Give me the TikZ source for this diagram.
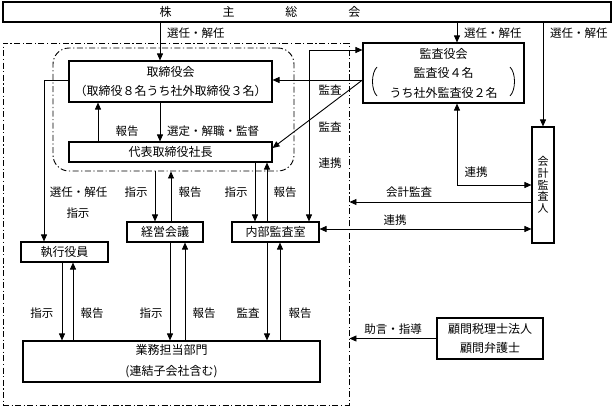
\documentclass[tikz,border=0pt]{standalone}
\usepackage{fontspec}
\setmainfont{Noto Sans CJK JP}
\usetikzlibrary{arrows.meta}
\tikzset{
  box/.style={draw, line width=1.1pt, inner sep=0pt, font=\fontsize{12}{19}\selectfont, align=center},
  lbl/.style={font=\fontsize{11.5}{13}\selectfont, inner sep=0pt},
  arr/.style={line width=0.9pt, -{Triangle[length=7pt,width=6pt]}},
  arrs/.style={line width=0.9pt, {Triangle[length=7pt,width=6pt]}-{Triangle[length=7pt,width=6pt]}},
  paren/.style={line width=0.8pt},
  dd/.style={draw, line width=0.9pt, dash pattern=on 6pt off 2.5pt on 1.2pt off 2.5pt, inner sep=0pt},
}
\begin{document}
\begin{tikzpicture}[x=1pt,y=-1pt]
\useasboundingbox (0,0) rectangle (614,407);
% group frames
\node[dd, minimum width=346pt, minimum height=362pt] (outer) at (176,224) {};
\node[dd, rounded corners=16pt, minimum width=241pt, minimum height=123pt] (grp) at (173.5,109.5) {};
% boxes
\node[box, minimum width=608pt, minimum height=20pt] (sh) at (307,12) {株\hspace{51pt}主\hspace{51pt}総\hspace{51pt}会\hspace{94pt}};
\node[box, minimum width=203pt, minimum height=41pt] (tb) at (170.5,81.5) {取締役会\\（取締役８名うち社外取締役３名）};
\node[box, minimum width=203pt, minimum height=20pt] (ceo) at (170.5,152) {代表取締役社長};
\node[box, minimum width=161pt, minimum height=60pt, font=\fontsize{12}{19.5}\selectfont] (kan) at (443.5,73) {監査役会\\監査役４名\\うち社外監査役２名};
\draw[paren] (377,67) .. controls (371,73) and (371,90) .. (377,96);
\draw[paren] (510,67) .. controls (516,73) and (516,90) .. (510,96);
\node[box, minimum width=22pt, minimum height=116pt, font=\fontsize{11}{11.7}\selectfont] (kai) at (543,185) {会\\計\\監\\査\\人};
\node[box, minimum width=87pt, minimum height=20pt] (nai) at (275.5,232) {内部監査室};
\node[box, minimum width=76pt, minimum height=20pt] (kei) at (165,232) {経営会議};
\node[box, minimum width=87pt, minimum height=20pt] (shi) at (64.5,252) {執行役員};
\node[box, minimum width=297pt, minimum height=41pt, font=\fontsize{12}{21}\selectfont] (gyo) at (171.5,361.5) {業務担当部門\\(連結子会社含む)};
\node[box, minimum width=106pt, minimum height=41pt] (kom) at (490,338.5) {顧問税理士法人\\顧問弁護士};
% connectors
\draw[arr] (sh.south -| 160,0) -- (tb.north -| 160,0);
\draw[arr] (sh.south -| 457,0) -- (kan.north -| 457,0);
\draw[arr] (sh.south -| kai.north) -- (kai.north);
\draw[arr] (ceo.north -| 98,0) -- (tb.south -| 98,0);
\draw[arr] (tb.south -| 160,0) -- (ceo.north -| 160,0);
\draw[arr] (kan.west |- 0,80) -- (tb.east |- 0,80);
\draw[arr] (kan.west |- 0,80) -- (ceo.east |- 0,148);
\draw[arrs] (nai.north -| 309,0) |- (kan.west |- 0,50);
\draw[arr] (tb.west |- 0,80) -| (shi.north -| 44,0);
\draw[arr] (grp.south -| 155,0) -- (kei.north -| 155,0);
\draw[arr] (kei.north -| 171,0) -- (grp.south -| 171,0);
\draw[arr] (ceo.south -| 255,0) -- (nai.north -| 255,0);
\draw[arr] (nai.north -| 267,0) -- (ceo.south -| 267,0);
\draw[arrs] (kan.south -| 457,0) |- (kai.west |- 0,185);
\draw[arr] (kai.west |- 0,202) -- (outer.east |- 0,202);
\draw[arrs] (nai.east |- 0,229) -- (kai.west |- 0,229);
\draw[arr] (shi.south -| 62,0) -- (gyo.north -| 62,0);
\draw[arr] (gyo.north -| 73,0) -- (shi.south -| 73,0);
\draw[arr] (kei.south -| 170,0) -- (gyo.north -| 170,0);
\draw[arr] (gyo.north -| 185,0) -- (kei.south -| 185,0);
\draw[arr] (nai.south -| 267,0) -- (gyo.north -| 267,0);
\draw[arr] (gyo.north -| 280,0) -- (nai.south -| 280,0);
\draw[arr] (kom.west) -- (outer.east |- kom.west);
% labels
\node[lbl, anchor=west] (l1) at (167,33) {選任・解任};
\node[lbl, anchor=west] (l2) at (464,33) {選任・解任};
\node[lbl, anchor=west] (l3) at (550,33) {選任・解任};
\node[lbl] (l4) at (127,131) {報告};
\node[lbl, anchor=west] (l5) at (167,131) {選定・解職・監督};
\node[lbl] (l6) at (330,90) {監査};
\node[lbl] (l7) at (330,127) {監査};
\node[lbl] (l8) at (330,163) {連携};
\node[lbl] (l9) at (476,172) {連携};
\node[lbl] (l10) at (409,192) {会計監査};
\node[lbl] (l11) at (395,220) {連携};
\node[lbl] (l12) at (78.5,192) {選任・解任};
\node[lbl] (l13) at (78,213) {指示};
\node[lbl] (l14) at (136,192) {指示};
\node[lbl] (l15) at (190,192) {報告};
\node[lbl] (l16) at (236,192) {指示};
\node[lbl] (l17) at (285,192) {報告};
\node[lbl] (l18) at (42,313) {指示};
\node[lbl] (l19) at (92,313) {報告};
\node[lbl] (l20) at (151,313) {指示};
\node[lbl] (l21) at (204,313) {報告};
\node[lbl] (l22) at (248,313) {監査};
\node[lbl] (l23) at (300,313) {報告};
\node[lbl] (l24) at (393,329) {助言・指導};
\end{tikzpicture}
\end{document}
